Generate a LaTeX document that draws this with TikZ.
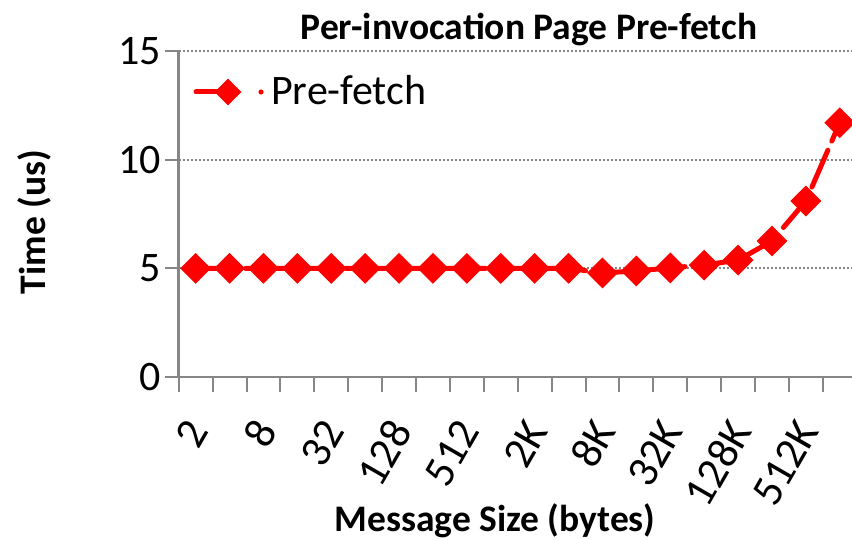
\documentclass[tikz,border=0pt]{standalone}
\usepackage{fontspec}
\setmainfont{Carlito}
\usetikzlibrary{shapes.geometric}
\definecolor{axisgray}{RGB}{134,134,134}
\definecolor{serieRed}{RGB}{255,0,0}
\tikzset{
  axisline/.style={draw=axisgray, line width=2.5bp},
  ticklink/.style={draw=axisgray, line width=2bp},
  gridline/.style={draw=axisgray, line width=2bp, dash pattern=on 2bp off 2bp},
  serie/.style={draw=serieRed, line width=5bp, line cap=round, line join=round,
                dash pattern=on 40bp off 10bp},
  marker/.style={shape=diamond, fill=serieRed, draw=none, inner sep=0pt,
                 minimum width=31bp, minimum height=31bp},
  ticklabel/.style={font=\fontsize{42bp}{48bp}\selectfont, inner sep=0pt},
  catlabel/.style={font=\fontsize{44bp}{50bp}\selectfont, inner sep=0pt,
                   anchor=east, rotate=60},
  axistitle/.style={font=\bfseries\fontsize{37.5bp}{44bp}\selectfont, inner sep=0pt},
}
\begin{document}
\begin{tikzpicture}[x=1bp, y=-1bp]
\useasboundingbox (0,0) rectangle (852,540);
\def\xo{178.7}
\def\dx{33.9}
\def\yo{377}
\def\dy{21.73}

% title
\node[axistitle, anchor=base] (title) at (529,40) {Per-invocation Page Pre-fetch};

% horizontal grid
\foreach \v in {5,10,15} {
  \coordinate (gl\v) at (\xo,{\yo-\v*\dy});
  \coordinate (gr\v) at (852,{\yo-\v*\dy});
  \draw[gridline] (gl\v) -- (gr\v);
}

% y ticks and labels
\foreach \v in {0,5,10,15} {
  \coordinate (ya\v) at (165,{\yo-\v*\dy});
  \coordinate (yb\v) at (\xo,{\yo-\v*\dy});
  \draw[ticklink] (ya\v) -- (yb\v);
  \node[ticklabel, anchor=east] (yl\v) at (161,{\yo-\v*\dy}) {\v};
}

% x ticks
\foreach \i in {0,...,19} {
  \coordinate (xa\i) at ({\xo+\i*\dx},\yo);
  \coordinate (xb\i) at ({\xo+\i*\dx},392);
  \draw[ticklink] (xa\i) -- (xb\i);
}

% axes
\coordinate (origin) at (\xo,\yo);
\coordinate (ytop) at (\xo,{\yo-15*\dy});
\coordinate (xend) at (852,\yo);
\draw[axisline] (ytop) -- (origin) -- (xend);

% category labels
\foreach \lab [count=\k from 0] in {2,8,32,128,512,2K,8K,32K,128K,512K} {
  \node[catlabel] (cl\k) at ({\xo+(2*\k+0.5)*\dx+2},424) {\lab};
}

% data points
\foreach \val [count=\i] in {5,5,5,5,5,5,5,5,5,5,5,5,4.79,4.88,5.02,5.15,5.38,6.26,8.1,11.7} {
  \coordinate (p\i) at ({\xo+(\i-0.5)*\dx},{\yo-\val*\dy});
}
\draw[serie] (p1) \foreach \i in {2,...,20} { -- (p\i) };
\foreach \i in {1,...,20} { \node[marker] (m\i) at (p\i) {}; }

% legend
\coordinate (lgA) at (196,92);
\coordinate (lgB) at (228,92);
\coordinate (lgDot) at (261,92);
\draw[serie, dash pattern=] (lgA) -- (lgB);
\fill[serieRed] (lgDot) circle (2.6bp);
\node[marker, minimum width=27bp, minimum height=27bp] (lgM) at (lgB) {};
\node[ticklabel, anchor=base west] (lgT) at (271,105) {Pre-fetch};

% axis titles
\node[axistitle, rotate=90] (ytitle) at (34,222) {Time (us)};
\node[axistitle, anchor=base] (xtitle) at (495,531) {Message Size (bytes)};
\end{tikzpicture}
\end{document}
